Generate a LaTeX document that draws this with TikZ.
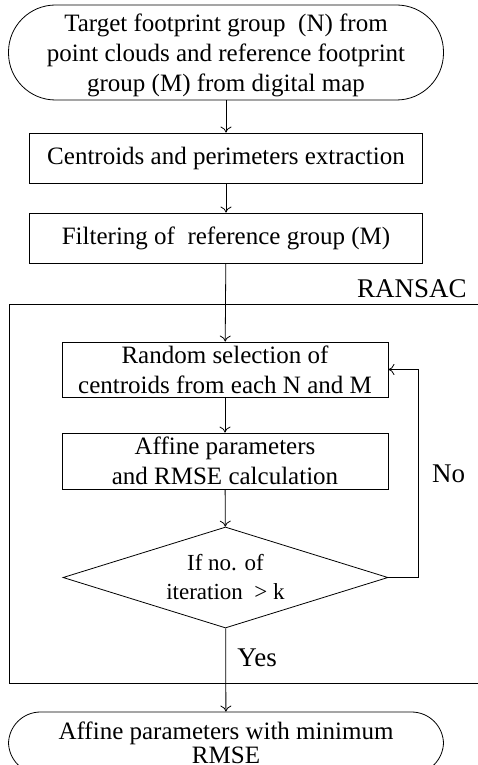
\documentclass[tikz,border=0pt]{standalone}
\usepackage{fontspec}
\setmainfont{Liberation Serif}
\usetikzlibrary{shapes.geometric,arrows.meta}

\begin{document}
\begin{tikzpicture}[x=1pt,y=-1pt,line width=0.8pt,
    >={To[length=6pt,width=11pt]},
    term/.style={draw,rectangle,inner sep=0pt,align=center,minimum width=435pt,font=\fontsize{25}{30}\selectfont},
    proc/.style={draw,rectangle,inner sep=0pt,align=center,font=\fontsize{25}{30}\selectfont},
    test/.style={draw,diamond,aspect=3.2,inner sep=0pt,align=center,minimum width=325pt,minimum height=101pt,font=\fontsize{23}{29}\selectfont},
    lbl/.style={font=\fontsize{27}{30}\selectfont}]
            \useasboundingbox (0,0) rectangle (478,765);

            \node[term,rounded corners=47pt,minimum height=95pt,text depth=0pt](a) at (226,52.5){Target footprint group\ \ (N) from\\point clouds and reference footprint\\group (M) from digital map};
            \node[proc,minimum width=393pt,minimum height=50pt](b) at (226,158){Centroids and perimeters extraction};
            \node[proc,minimum width=393pt,minimum height=50pt](c) at (226,238){Filtering of\ \ reference group (M)};

            % RANSAC frame, open on the right
            \draw (478,304) -- (9,304) -- (9,683) -- (478,683);
            \node[lbl](r) at (412,289){RANSAC};

            \node[proc,minimum width=326pt,minimum height=55pt](d) at (225,369.5){Random selection of\\centroids from each N and M};
            \node[proc,minimum width=326pt,minimum height=56pt](e) at (225,461){Affine parameters\\and RMSE calculation};
            \node[test](f) at (225.5,577.5){If no. of\\iteration\ \ > k};

            % the shape runs off the page bottom
            \node[term,rounded corners=32pt,minimum height=62pt,font=\fontsize{25}{24}\selectfont](g) at (226,743){Affine parameters with minimum\\RMSE};

            \draw[->] (a) -- (b);
            \draw[->] (b) -- (c);
            \draw[->] (c) -- (d);
            \draw[->] (d) -- (e);
            \draw[->] (e) -- (f);
            \draw[->] (f) -- node[lbl,pos=0.35,right,xshift=8pt]{Yes}(g);
            \draw[->] (f.east) -- ++(30,0) |- node[lbl,pos=0.25,right,xshift=10pt]{No}(d.east);
          \end{tikzpicture}
\end{document}
